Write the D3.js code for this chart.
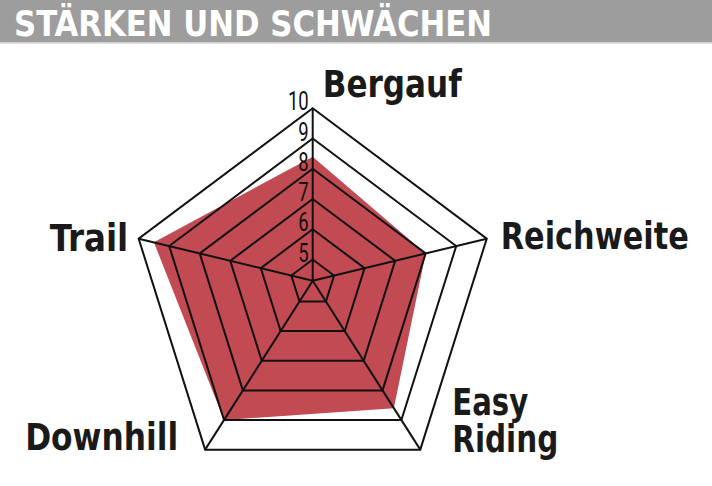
<!DOCTYPE html>
<html>
<head>
<meta charset="utf-8">
<script src="https://cdn.jsdelivr.net/npm/d3@7"></script>
<style>
  html, body { margin: 0; padding: 0; background: #fff; }
  svg { display: block; }
</style>
</head>
<body>
<svg id="chart" width="712" height="486"></svg>
<script>
// ---- data ----
const titleText = "STÄRKEN UND SCHWÄCHEN";
const axesNames = ["Bergauf", "Reichweite", "Easy Riding", "Downhill", "Trail"];
const values = [8.4, 8.0, 8.6, 9.0, 9.5];
const tickValues = [5, 6, 7, 8, 9, 10];

// ---- layout ----
const W = 712, H = 486;
const origin = { x: 312.7, y: 280.7 };      // where spokes meet
const pent = { cx: 312.7, cy: 297, rx: 183, ry: 188.7 }; // outer pentagon frame
const fillColor = "#c14a53";

const svg = d3.select("#chart");

// title band
svg.append("rect").attr("x", 0).attr("y", 0).attr("width", W).attr("height", 42).attr("fill", "#9d9d9d");
svg.append("rect").attr("x", 0).attr("y", 42).attr("width", W).attr("height", 1.5).attr("fill", "#cfcfcf");
svg.append("text")
  .attr("x", 14).attr("y", 35.5)
  .attr("font-family", "'DejaVu Sans Condensed', 'DejaVu Sans', sans-serif")
  .attr("font-weight", "bold")
  .attr("font-size", 35)
  .attr("fill", "#ffffff")
  .attr("textLength", 478)
  .attr("lengthAdjust", "spacingAndGlyphs")
  .text(titleText);

// scales
const angle = d3.scaleBand().domain(axesNames).range([0, 2 * Math.PI]);
const rScale = d3.scaleLinear().domain([4.3, 10]).range([0, 1]);

function outerVertex(name) {
  const a = angle(name) - Math.PI / 2;
  return { x: pent.cx + pent.rx * Math.cos(a), y: pent.cy + pent.ry * Math.sin(a) };
}
function pointAt(name, v) {
  const o = outerVertex(name);
  const s = rScale(v);
  return [origin.x + s * (o.x - origin.x), origin.y + s * (o.y - origin.y)];
}

const line = d3.line().curve(d3.curveLinearClosed);

// data polygon
svg.append("path")
  .attr("d", line(axesNames.map((n, i) => pointAt(n, values[i]))))
  .attr("fill", fillColor);

// rings
const grid = svg.append("g").attr("fill", "none").attr("stroke", "#111").attr("stroke-width", 2).attr("stroke-linejoin", "miter");
tickValues.forEach(t => {
  grid.append("path").attr("d", line(axesNames.map(n => pointAt(n, t))));
});
// spokes
axesNames.forEach(n => {
  const p = pointAt(n, 10);
  grid.append("line")
    .attr("x1", origin.x).attr("y1", origin.y)
    .attr("x2", p[0]).attr("y2", p[1]);
});

// tick labels along the top spoke
tickValues.forEach(t => {
  const p = pointAt(axesNames[0], t);
  svg.append("g")
    .attr("transform", `translate(${p[0] - 4},${p[1] + 2}) scale(0.74,1)`)
    .append("text")
    .attr("text-anchor", "end")
    .attr("font-family", "Roboto, 'DejaVu Sans', sans-serif")
    .attr("font-weight", 400)
    .attr("font-size", 25)
    .attr("fill", "#111")
    .text(t);
});

// axis labels (positions relative to the outer vertices)
const labelLayout = {
  "Bergauf":     [{ dx: 10,   dy: -11.6, w: 139 }],
  "Reichweite":  [{ dx: 14,   dy: 10,    w: 188 }],
  "Easy Riding": [{ dx: 32,   dy: -34.7, w: 76, t: "Easy" }, { dx: 32, dy: 2, w: 106, t: "Riding" }],
  "Downhill":    [{ dx: -180, dy: 0,     w: 153 }],
  "Trail":       [{ dx: -89,  dy: 12.5,  w: 78.6 }]
};
axesNames.forEach(n => {
  const o = outerVertex(n);
  labelLayout[n].forEach(L => {
    svg.append("text")
      .attr("x", o.x + L.dx).attr("y", o.y + L.dy)
      .attr("font-family", "'DejaVu Sans Condensed', 'DejaVu Sans', sans-serif")
      .attr("font-weight", "bold")
      .attr("font-size", 37)
      .attr("fill", "#1a1a1a")
      .attr("textLength", L.w)
      .attr("lengthAdjust", "spacingAndGlyphs")
      .text(L.t || n);
  });
});
</script>
</body>
</html>
